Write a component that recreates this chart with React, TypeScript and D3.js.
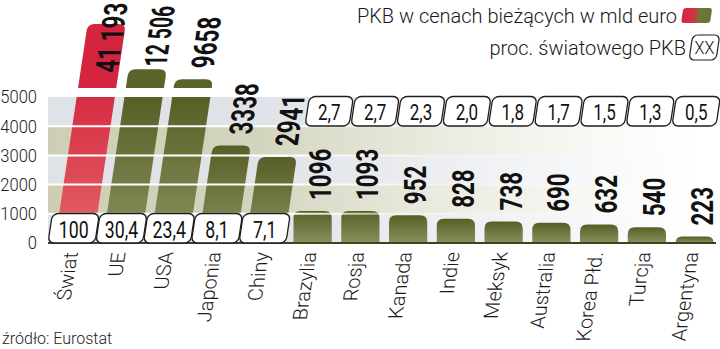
import React from 'react';
import * as d3 from 'd3';

const categories = ['Świat', 'UE', 'USA', 'Japonia', 'Chiny', 'Brazylia', 'Rosja', 'Kanada', 'Indie', 'Meksyk', 'Australia', 'Korea Płd.', 'Turcja', 'Argentyna'];
const gdp = [41193, 12506, 9658, 3338, 2941, 1096, 1093, 952, 828, 738, 690, 632, 540, 223];
const sharePct = [100, 30.4, 23.4, 8.1, 7.1, 2.7, 2.7, 2.3, 2.0, 1.8, 1.7, 1.5, 1.3, 0.5];
const yTicks = [0, 1000, 2000, 3000, 4000, 5000];
const gridValues = [1000, 2000, 3000, 4000];
const legendGdp = 'PKB w cenach bieżących w mld euro';
const legendShare = 'proc. światowego PKB';
const legendBoxText = 'XX';
const sourceText = 'źródło: Eurostat';

const W = 720;
const H = 349;
const BASE = 243;
const BREAK = 5000;
const K = 0.15;
const SKEW = -Math.atan(K) * 180 / Math.PI;
const FONT = 'Roboto, "Noto Sans", sans-serif';

const y = d3.scaleLinear().domain([0, BREAK]).range([BASE, 97]);
const yUp = d3.scaleLinear().domain([BREAK, 10000, 15000, 42000]).range([88, 78.5, 60, 23]);
const x = d3.scaleBand<string>().domain(categories).range([50, 718.5]).paddingInner(0.2).paddingOuter(0.1);
const upperCats = categories.filter((_, i) => gdp[i] <= 2000);
const xUp = d3.scaleBand<string>().domain(upperCats).range([305, 716]).paddingInner(0.04);

const fmtVal = (v: number) => (v >= 10000 ? d3.format(',')(v).replace(',', ' ') : String(v));
const fmtPct = (v: number) => (v >= 100 ? String(v) : v.toFixed(1).replace('.', ','));

function roundTop(x0: number, w: number, yTop: number, yBot: number, r: number) {
  const rr = Math.min(r, yBot - yTop, w / 2);
  return `M${x0},${yBot}L${x0},${yTop + rr}Q${x0},${yTop} ${x0 + rr},${yTop}L${x0 + w - rr},${yTop}Q${x0 + w},${yTop} ${x0 + w},${yTop + rr}L${x0 + w},${yBot}Z`;
}

const skewAt = (py: number) => `translate(0,${py}) skewX(${SKEW}) translate(0,${-py})`;

const VAL_FS = 32;
const VAL_SX = 0.7;
function labelLen(s: string) {
  let em = 0;
  for (const ch of s) em += ch === ' ' ? 0.25 : 0.562;
  return em * VAL_FS * VAL_SX;
}

export default function App() {
  const bands = d3.range(5).map((i) => ({ y0: y((i + 1) * 1000), y1: y(i * 1000), beige: i % 2 === 1 }));

  const bars = categories.map((c, i) => {
    const v = gdp[i];
    const bx = x(c)!;
    const bw = x.bandwidth();
    const skewed = v > 2000;
    const broken = v > BREAK;
    const top = broken ? yUp(v) : y(v);
    const cx = bx + bw / 2;
    const s = fmtVal(v);
    const L = labelLen(s);
    let bottom = top - 11;
    let sx = VAL_SX;
    if (bottom - L < 6) {
      const b2 = top - 3;
      const avail = b2 - 7;
      if (avail >= 0.8 * L) {
        bottom = b2;
        sx = VAL_SX * (avail / L);
      } else {
        bottom = 4 + L;
      }
    }
    const isRed = i === 0;
    const barEls = broken ? (
      <g>
        <rect x={bx} y={y(BREAK)} width={bw} height={BASE - y(BREAK)} fill={isRed ? 'url(#redG)' : 'url(#greenG)'} />
        <path d={roundTop(bx, bw, top, yUp(BREAK), 7)} fill={isRed ? '#d4243f' : '#5a6328'} />
      </g>
    ) : (
      <path d={roundTop(bx, bw, top, BASE, 7)} fill={isRed ? 'url(#redG)' : 'url(#greenG)'} />
    );
    const label = (
      <text
        transform={`translate(${cx + 18},${bottom}) rotate(-90) scale(${sx},1)`}
        fontFamily={FONT}
        fontWeight={700}
        fontSize={VAL_FS}
        fill="#111"
      >
        {s}
      </text>
    );
    return { c, i, v, bx, bw, cx, skewed, barEls, label };
  });

  return (
    <svg width={W} height={H} viewBox={`0 0 ${W} ${H}`} style={{ position: 'absolute', left: 0, top: 0, background: '#fff' }}>
      <defs>
        <linearGradient id="grayF" gradientUnits="userSpaceOnUse" x1={48} x2={700} y1={0} y2={0}>
          <stop offset="0" stopColor="#dfe2e7" stopOpacity={1} />
          <stop offset="0.32" stopColor="#dfe2e7" stopOpacity={1} />
          <stop offset="1" stopColor="#dfe2e7" stopOpacity={0} />
        </linearGradient>
        <linearGradient id="beigeF" gradientUnits="userSpaceOnUse" x1={48} x2={700} y1={0} y2={0}>
          <stop offset="0" stopColor="#cdceb5" stopOpacity={1} />
          <stop offset="0.32" stopColor="#d3d4bd" stopOpacity={1} />
          <stop offset="1" stopColor="#e8e8dc" stopOpacity={0} />
        </linearGradient>
        <linearGradient id="gridF" gradientUnits="userSpaceOnUse" x1={48} x2={700} y1={0} y2={0}>
          <stop offset="0" stopColor="#fff" stopOpacity={1} />
          <stop offset="0.36" stopColor="#fff" stopOpacity={1} />
          <stop offset="0.6" stopColor="#fff" stopOpacity={0.3} />
          <stop offset="1" stopColor="#fff" stopOpacity={0} />
        </linearGradient>
        <linearGradient id="redG" x1="0" x2="0" y1="0" y2="1">
          <stop offset="0" stopColor="#d62c42" />
          <stop offset="1" stopColor="#e4656a" />
        </linearGradient>
        <linearGradient id="greenG" x1="0" x2="0" y1="0" y2="1">
          <stop offset="0" stopColor="#575f26" />
          <stop offset="1" stopColor="#8a905e" />
        </linearGradient>
        <linearGradient id="legG" x1="0" x2="1" y1="0" y2="0">
          <stop offset="0" stopColor="#d8273f" />
          <stop offset="0.4" stopColor="#d4303f" />
          <stop offset="0.6" stopColor="#6f7638" />
          <stop offset="1" stopColor="#6a7236" />
        </linearGradient>
      </defs>

      {bands.map((b, i) => (
        <rect key={i} x={48} y={b.y0} width={W - 48} height={b.y1 - b.y0} fill={b.beige ? 'url(#beigeF)' : 'url(#grayF)'} />
      ))}

      {bars.map((b) => (
        <g key={b.c} transform={b.skewed ? skewAt(BASE) : undefined}>
          {b.barEls}
        </g>
      ))}

      {gridValues.map((g) => (
        <line key={g} x1={48} x2={W} y1={y(g)} y2={y(g)} stroke="url(#gridF)" strokeWidth={2} />
      ))}

      <line x1={48} x2={716} y1={BASE} y2={BASE} stroke="#3f4420" strokeWidth={2} />

      {bars.filter((b) => b.skewed).map((b) => {
        const bx = b.bx - 6.8;
        const w = x.step() - 0.8;
        const tcx = bx + w / 2 + K * (BASE - 228);
        return (
          <g key={'lb' + b.c}>
            <g transform={skewAt(BASE)}>
              <rect x={bx} y={213.5} width={w} height={29.5} rx={6} fill="#fff" stroke="#1e1e1e" strokeWidth={1.3} />
            </g>
            <text transform={`translate(${tcx},${237.5}) scale(0.77,1)`} textAnchor="middle" fontFamily={FONT} fontSize={23} fill="#111">
              {fmtPct(sharePct[b.i])}
            </text>
          </g>
        );
      })}

      {bars.filter((b) => !b.skewed).map((b) => {
        const bx = xUp(b.c)!;
        const w = xUp.bandwidth();
        const tcx = bx + w / 2 + K * (126 - 111);
        return (
          <g key={'ub' + b.c}>
            <g transform={skewAt(126)}>
              <rect x={bx} y={96.5} width={w} height={29.5} rx={6} fill="#fff" stroke="#1e1e1e" strokeWidth={1.3} />
            </g>
            <text transform={`translate(${tcx},${119.5}) scale(0.77,1)`} textAnchor="middle" fontFamily={FONT} fontSize={22} fill="#111">
              {fmtPct(sharePct[b.i])}
            </text>
          </g>
        );
      })}

      {bars.map((b) => (
        <g key={'vl' + b.c} transform={b.skewed ? skewAt(BASE) : undefined}>
          {b.label}
        </g>
      ))}

      {yTicks.map((t) => (
        <text key={t} transform={`translate(37,${y(t)}) scale(0.92,1)`} dy="0.36em" textAnchor="end" fontFamily={FONT} fontWeight={300} fontSize={18} fill="#222">
          {t}
        </text>
      ))}

      {bars.map((b) => (
        <text
          key={'xl' + b.c}
          transform={`translate(${b.cx + 4},252) skewX(${SKEW}) rotate(-90)`}
          textAnchor="end"
          fontFamily={FONT}
          fontWeight={300}
          fontSize={20}
          fill="#1a1a1a"
        >
          {b.c}
        </text>
      ))}

      <text x={677} y={23} textAnchor="end" fontFamily={FONT} fontWeight={300} fontSize={20} fill="#1a1a1a">
        {legendGdp}
      </text>
      <g transform={skewAt(23)}>
        <rect x={681} y={8} width={29} height={15} rx={3} fill="url(#legG)" />
      </g>
      <text x={686} y={55} textAnchor="end" fontFamily={FONT} fontWeight={300} fontSize={20} fill="#1a1a1a">
        {legendShare}
      </text>
      <g transform={skewAt(60)}>
        <rect x={689} y={35} width={27} height={25} rx={5} fill="#fff" stroke="#1e1e1e" strokeWidth={1.2} />
      </g>
      <text transform={`translate(${704.5},${54}) scale(0.9,1)`} textAnchor="middle" fontFamily={FONT} fontWeight={300} fontSize={18} fill="#111">
        {legendBoxText}
      </text>

      <text x={2} y={344} fontFamily={FONT} fontWeight={300} fontSize={16} fill="#222">
        {sourceText}
      </text>
    </svg>
  );
}
